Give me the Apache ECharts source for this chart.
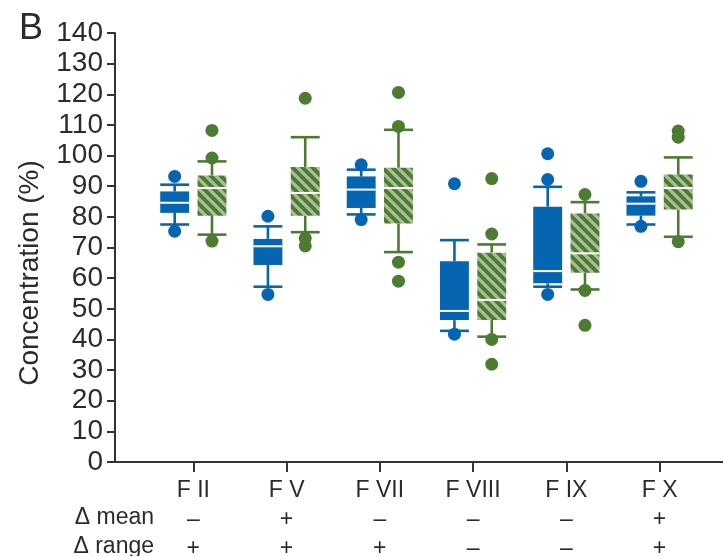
<!DOCTYPE html>
<html>
<head>
<meta charset="utf-8">
<script src="https://cdn.jsdelivr.net/npm/echarts@6/dist/echarts.min.js"></script>
<style>
  html, body { margin: 0; padding: 0; background: #fff; }
  #chart { width: 723px; height: 556px; }
</style>
</head>
<body>
<div id="chart"></div>
<script>
// Factor labels and the change indicators shown under each one
const categories = ['F II', 'F V', 'F VII', 'F VIII', 'F IX', 'F X'];
const meanChange = ['\u2013', '+', '\u2013', '\u2013', '\u2013', '+'];
const rangeChange = ['+', '+', '+', '\u2013', '\u2013', '+'];

// Box statistics per factor: [lower whisker, Q1, median, Q3, upper whisker]
const blueBoxes = [
  [77.5, 81.3, 84.6, 88.3, 90.5],
  [57.2, 64.3, 70.4, 72.8, 76.9],
  [80.8, 82.9, 88.9, 93.2, 95.4],
  [42.8, 46.3, 49.3, 65.5, 72.4],
  [57.2, 58.3, 62.3, 83.3, 89.8],
  [77.5, 80.4, 84.3, 86.7, 88.0]
];
const greenBoxes = [
  [74.2, 80.4, 89.4, 93.5, 98.1],
  [75.0, 80.4, 87.8, 96.3, 106.0],
  [68.5, 77.8, 89.4, 96.0, 108.4],
  [40.9, 46.3, 52.9, 68.3, 71.0],
  [56.3, 61.8, 68.1, 81.1, 84.8],
  [73.5, 82.4, 89.4, 93.8, 99.4]
];

// Individual points outside / at the whiskers, per factor
const blueOutliers = [
  [93.2, 75.3],
  [80.2, 54.7],
  [97.0, 79.1],
  [90.8, 41.7],
  [100.6, 92.2, 54.7],
  [91.6, 76.9]
];
const greenOutliers = [
  [108.2, 99.2, 72.1],
  [118.7, 73.0, 70.5],
  [120.6, 109.5, 65.2, 59.0],
  [92.5, 74.4, 40.0, 31.9],
  [87.3, 56.0, 44.6],
  [108.0, 106.0, 71.9]
];

const yTicks = [0, 10, 20, 30, 40, 50, 60, 70, 80, 90, 100, 110, 120, 130, 140];

const BLUE = '#0565b0';
const GREEN = '#4d7b32';
const STRIPE = '#a9bf98';
const TEXT = '#2b2b2b';
const FONT = '"Liberation Sans", Arial, Helvetica, sans-serif';
const OFFSET = 0.2;
const BOX_W = 0.31;

// Diagonal hatch used for the green boxes
function makeHatch() {
  const s = 10;
  const c = document.createElement('canvas');
  c.width = s; c.height = s;
  const g = c.getContext('2d');
  g.fillStyle = GREEN;
  g.fillRect(0, 0, s, s);
  g.strokeStyle = STRIPE;
  g.lineWidth = 3.2;
  g.beginPath();
  for (let k = -1; k <= 1; k++) {
    g.moveTo(k * s - 2, -2);
    g.lineTo(k * s + s + 2, s + 2);
  }
  g.stroke();
  return { image: c, repeat: 'repeat' };
}
const hatch = makeHatch();

function boxData(boxes, shift) {
  return boxes.map((b, i) => [i + 1 + shift].concat(b));
}
function pointData(points, shift) {
  const out = [];
  points.forEach((list, i) => list.forEach(v => out.push([i + 1 + shift, v])));
  return out;
}

function boxRenderer(fill, color) {
  return function (params, api) {
    const x = api.value(0);
    const lo = api.coord([x, api.value(1)]);
    const q1 = api.coord([x, api.value(2)]);
    const md = api.coord([x, api.value(3)]);
    const q3 = api.coord([x, api.value(4)]);
    const hi = api.coord([x, api.value(5)]);
    const w = api.size([BOX_W, 0])[0];
    const cx = lo[0];
    const x0 = cx - w / 2, x1 = cx + w / 2;
    const lineStyle = { stroke: color, lineWidth: 2.6 };
    return {
      type: 'group',
      children: [
        { type: 'line', shape: { x1: cx, y1: lo[1], x2: cx, y2: q1[1] }, style: lineStyle },
        { type: 'line', shape: { x1: cx, y1: q3[1], x2: cx, y2: hi[1] }, style: lineStyle },
        { type: 'line', shape: { x1: x0, y1: lo[1], x2: x1, y2: lo[1] }, style: lineStyle },
        { type: 'line', shape: { x1: x0, y1: hi[1], x2: x1, y2: hi[1] }, style: lineStyle },
        { type: 'rect', shape: { x: x0, y: q3[1], width: w, height: q1[1] - q3[1] }, style: { fill: fill } },
        { type: 'line', shape: { x1: x0, y1: md[1], x2: x1, y2: md[1] }, style: { stroke: '#fff', lineWidth: 2 } }
      ]
    };
  };
}

const chart = echarts.init(document.getElementById('chart'), null, { renderer: 'canvas' });

chart.setOption({
  animation: false,
  backgroundColor: '#fff',
  grid: { left: 115, right: 0, top: 33, bottom: 94, containLabel: false, outerBoundsMode: 'none' },
  xAxis: {
    type: 'value',
    min: 0.16,
    max: 6.68,
    splitLine: { show: false },
    axisLine: { lineStyle: { color: '#333', width: 2 } },
    axisTick: {
      customValues: categories.map((c, i) => i + 1),
      length: 10,
      lineStyle: { color: '#333', width: 2 }
    },
    axisLabel: {
      customValues: categories.map((c, i) => i + 1),
      margin: 14,
      color: TEXT,
      fontFamily: FONT,
      fontSize: 23,
      lineHeight: 29,
      formatter: function (v) {
        const i = Math.round(v) - 1;
        return categories[i] + '\n' + meanChange[i] + '\n' + rangeChange[i];
      }
    }
  },
  yAxis: {
    type: 'value',
    min: 0,
    max: 140,
    interval: 10,
    splitLine: { show: false },
    axisLine: { show: true, lineStyle: { color: '#333', width: 2 } },
    axisTick: { show: true, length: 8, lineStyle: { color: '#333', width: 2 } },
    axisLabel: {
      margin: 12,
      color: TEXT,
      fontFamily: FONT,
      fontSize: 28,
      formatter: function (v) { return yTicks.indexOf(v) >= 0 ? String(v) : ''; }
    }
  },
  graphic: [
    {
      type: 'text', left: 19, top: 11,
      style: { text: 'B', fill: TEXT, font: '36px ' + FONT }
    },
    {
      type: 'text', x: 30, y: 273, rotation: Math.PI / 2,
      style: { text: 'Concentration (%)', fill: TEXT, font: '28px ' + FONT, align: 'center', verticalAlign: 'middle' }
    },
    {
      type: 'text', x: 154, y: 518,
      style: { text: '\u0394 mean', fill: TEXT, font: '23px ' + FONT, align: 'right', verticalAlign: 'middle' }
    },
    {
      type: 'text', x: 154, y: 547,
      style: { text: '\u0394 range', fill: TEXT, font: '23px ' + FONT, align: 'right', verticalAlign: 'middle' }
    }
  ],
  series: [
    {
      type: 'custom',
      name: 'blue',
      renderItem: boxRenderer(BLUE, BLUE),
      encode: { x: 0, y: [1, 2, 3, 4, 5] },
      data: boxData(blueBoxes, -OFFSET),
      z: 2
    },
    {
      type: 'custom',
      name: 'green',
      renderItem: boxRenderer(hatch, GREEN),
      encode: { x: 0, y: [1, 2, 3, 4, 5] },
      data: boxData(greenBoxes, OFFSET),
      z: 2
    },
    {
      type: 'scatter',
      symbol: 'circle',
      symbolSize: 13,
      itemStyle: { color: BLUE, opacity: 1 },
      data: pointData(blueOutliers, -OFFSET),
      z: 3
    },
    {
      type: 'scatter',
      symbol: 'circle',
      symbolSize: 13,
      itemStyle: { color: GREEN, opacity: 1 },
      data: pointData(greenOutliers, OFFSET),
      z: 3
    }
  ]
});
</script>
</body>
</html>
